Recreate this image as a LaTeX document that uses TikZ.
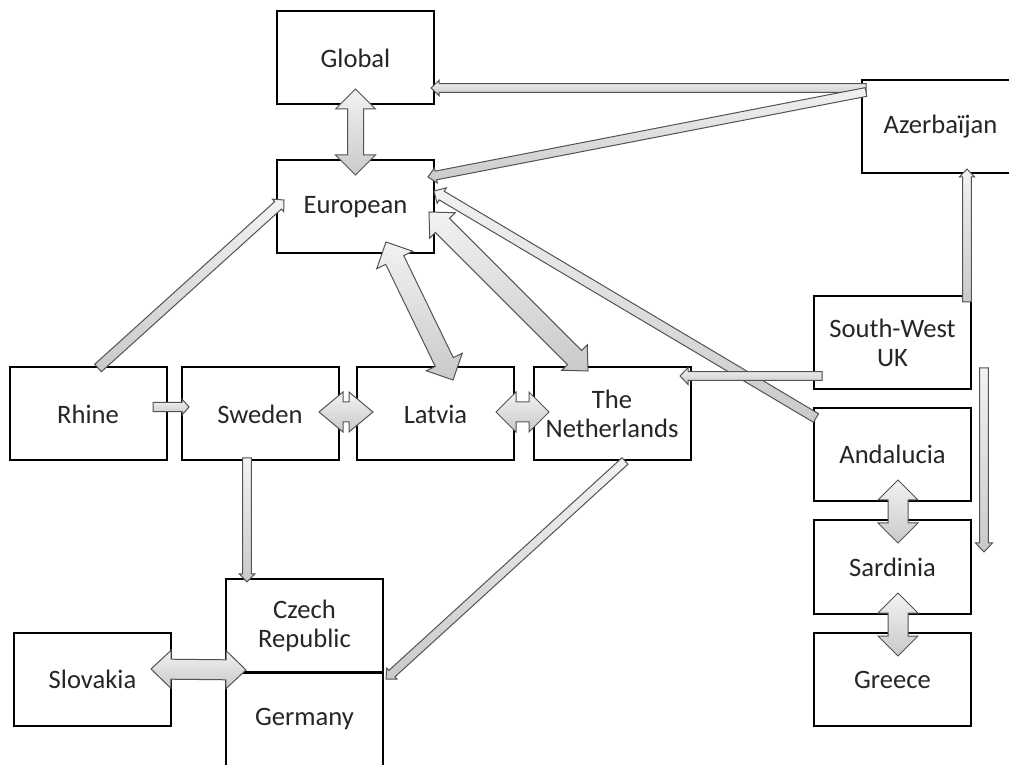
\documentclass[tikz,border=0pt]{standalone}
\usepackage{fontspec}
\setmainfont{Carlito}
\usetikzlibrary{calc}

\tikzset{
    shafthalf/.store in=\shafthalf, shafthalf=2pt,
    headhalf/.store in=\headhalf, headhalf=4pt,
    headlen/.store in=\headlen, headlen=4pt,
    slim/.style={shafthalf=2.2pt, headhalf=3.8pt, headlen=4pt},
    fat/.style={shafthalf=5pt, headhalf=10pt, headlen=10pt},
    blk/.style={draw=gray!65!black, line width=0.5pt, top color=gray!10, bottom color=gray!42},
    onearrow/.style={blk, to path={
        ($(\tikztostart)!\shafthalf!90:(\tikztotarget)$)
        -- ($($(\tikztotarget)!\headlen!(\tikztostart)$)!\shafthalf!-90:(\tikztostart)$)
        -- ($($(\tikztotarget)!\headlen!(\tikztostart)$)!\headhalf!-90:(\tikztostart)$)
        -- (\tikztotarget)
        -- ($($(\tikztotarget)!\headlen!(\tikztostart)$)!\headhalf!90:(\tikztostart)$)
        -- ($($(\tikztotarget)!\headlen!(\tikztostart)$)!\shafthalf!90:(\tikztostart)$)
        -- ($(\tikztostart)!\shafthalf!-90:(\tikztotarget)$) -- cycle}},
    twoarrow/.style={blk, to path={
        (\tikztostart)
        -- ($($(\tikztostart)!\headlen!(\tikztotarget)$)!\headhalf!90:(\tikztotarget)$)
        -- ($($(\tikztostart)!\headlen!(\tikztotarget)$)!\shafthalf!90:(\tikztotarget)$)
        -- ($($(\tikztotarget)!\headlen!(\tikztostart)$)!\shafthalf!-90:(\tikztostart)$)
        -- ($($(\tikztotarget)!\headlen!(\tikztostart)$)!\headhalf!-90:(\tikztostart)$)
        -- (\tikztotarget)
        -- ($($(\tikztotarget)!\headlen!(\tikztostart)$)!\headhalf!90:(\tikztostart)$)
        -- ($($(\tikztotarget)!\headlen!(\tikztostart)$)!\shafthalf!90:(\tikztostart)$)
        -- ($($(\tikztostart)!\headlen!(\tikztotarget)$)!\shafthalf!-90:(\tikztotarget)$)
        -- ($($(\tikztostart)!\headlen!(\tikztotarget)$)!\headhalf!-90:(\tikztotarget)$)
        -- cycle}}
}

\begin{document}
\begin{tikzpicture}[
        x=0.5pt, y=-0.5pt,
        region/.style={draw, line width=1pt, fill=white, minimum width=78.5pt, minimum height=46.5pt,
            inner sep=0pt, align=center, text=black!85, font=\fontsize{13.3pt}{14.5pt}\selectfont}
        ]
    \useasboundingbox (0,0) rectangle (1009,765);
    \clip (0,0) rectangle (1009,765);

    % Define region nodes
    \node[region] (global) at (355.5, 58) {Global};
    \node[region] (european) at (355.5, 207) {European};
    \node[region] (azer) at (940.5, 126.5) {Azerba\"ijan};
    \node[region] (rhine) at (88, 414) {Rhine};
    \node[region] (sweden) at (260, 414) {Sweden};
    \node[region] (latvia) at (435.5, 414) {Latvia};
    \node[region] (nether) at (612, 414) {The\\Netherlands};
    \node[region] (swuk) at (892.5, 342.5) {South-West\\UK};
    \node[region] (andal) at (892.5, 454.5) {Andalucia};
    \node[region] (sardin) at (892.5, 567) {Sardinia};
    \node[region] (greece) at (892.5, 679.5) {Greece};
    \node[region] (slovak) at (92.5, 679.5) {Slovakia};
    \node[region] (czech) at (304.5, 625.5) {Czech\\Republic};
    \node[region] (germany) at (304.5, 719) {Germany};

    % Draw the two-way block arrows
    \draw[twoarrow, fat, shafthalf=4pt] ($(global.south)+(0,-16.5)$) to ($(european.north)+(0,15.5)$);
    \draw[twoarrow, fat] ($(european.south)+(30.5,-12.5)$) to ($(latvia.north)+(17.5,13.5)$);
    \draw[twoarrow, fat, headhalf=9pt, headlen=9.5pt] ($(european.east)+(-6,5)$) to ($(nether.north)+(-24,4.5)$);
    \draw[twoarrow, fat, headlen=12pt] ($(sweden.east)+(-20.5,-2)$) to ($(latvia.west)+(17,-2)$);
    \draw[twoarrow, fat] ($(latvia.east)+(-19,-2)$) to ($(nether.west)+(16.5,-2)$);
    \draw[twoarrow, fat] ($(andal.south)+(5.5,-22)$) to ($(sardin.north)+(5.5,23.5)$);
    \draw[twoarrow, fat] ($(sardin.south)+(5.5,-21.5)$) to ($(greece.north)+(5.5,24)$);
    \draw[twoarrow, fat, headhalf=9.5pt] ($(slovak.east)+(-21,-10.5)$) to ($(czech.south west)+(21,-3)$);

    % Draw the one-way block arrows
    \draw[onearrow, slim] ($(azer.west)+(5,-38.5)$) to ($(global.east)+(-4,30)$);
    \draw[onearrow, slim] ($(azer.west)+(5,-34.5)$) to ($(european.east)+(-7,-30)$);
    \draw[onearrow, slim, shafthalf=2.5pt, headhalf=4.2pt] ($(rhine.north)+(10,1.5)$) to ($(european.west)+(8,-7)$);
    \draw[onearrow, slim, shafthalf=2.5pt, headhalf=4.5pt, headlen=4.5pt] ($(andal.west)+(3,-36.5)$) to ($(european.east)+(-1,-16)$);
    \draw[onearrow, slim, headhalf=4.2pt] ($(swuk.west)+(9,33.5)$) to ($(nether.east)+(-11.5,-38)$);
    \draw[onearrow, slim] ($(swuk.north)+(74.5,7)$) to ($(azer.south)+(26.5,-5)$);
    \draw[onearrow, slim, headhalf=4.2pt, headlen=4.5pt] ($(swuk.east)+(12,25.5)$) to ($(sardin.east)+(12,-15)$);
    \draw[onearrow, slim, shafthalf=2.3pt, headhalf=4pt, headlen=3.5pt] ($(rhine.east)+(-14.5,-7)$) to ($(sweden.west)+(8.5,-7)$);
    \draw[onearrow, slim] ($(sweden.south)+(-13,-3.5)$) to ($(czech.north)+(-57.5,4)$);
    \draw[onearrow, slim] ($(nether.south)+(13,-0.5)$) to ($(germany.north east)+(2,7.5)$);

\end{tikzpicture}
\end{document}
